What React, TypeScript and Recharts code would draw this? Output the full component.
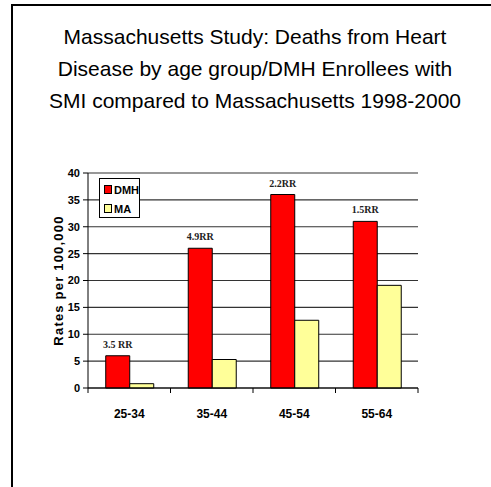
import React from 'react';
import { BarChart, Bar, XAxis, YAxis, CartesianGrid, LabelList } from 'recharts';

const ageGroups = ['25-34', '35-44', '45-54', '55-64'];
const dmhRates = [6, 26, 36, 31];
const maRates = [0.8, 5.3, 12.6, 19.1];
const rrLabels = ['3.5 RR', '4.9RR', '2.2RR', '1.5RR'];
const yTicks = [0, 5, 10, 15, 20, 25, 30, 35, 40];
const seriesNames = ['DMH', 'MA'];
const seriesColors = ['#ff0000', '#ffff99'];

const titleLines = [
    'Massachusetts Study: Deaths from Heart',
    'Disease by age group/DMH Enrollees with',
    'SMI compared to Massachusetts 1998-2000',
];

const data = ageGroups.map((name, i) => ({
    name,
    DMH: dmhRates[i],
    MA: maRates[i],
    rr: rrLabels[i],
}));

const font = '"Liberation Sans", Arial, sans-serif';
const HALF_BAND = 41.25;

// category labels centred, tick marks on the category boundaries
const AgeTick = (props: any) => {
    const { x, y, payload, index } = props;
    const top = y - 8;
    return (
        <g>
            <line x1={x - HALF_BAND} y1={top} x2={x - HALF_BAND} y2={top + 5} stroke="#000" />
            {index === ageGroups.length - 1 && (
                <line x1={x + HALF_BAND} y1={top} x2={x + HALF_BAND} y2={top + 5} stroke="#000" />
            )}
            <text x={x} y={top + 30} textAnchor="middle" fontFamily={font} fontWeight="bold" fontSize={12} fill="#000">
                {payload.value}
            </text>
        </g>
    );
};

const RRLabel = (props: any) => {
    const { x, y, width, value } = props;
    return (
        <text x={x + width / 2} y={y - 8} textAnchor="middle" fontFamily='"Liberation Serif", "Times New Roman", serif' fontWeight="bold" fontSize={10} fill="#222">
            {value}
        </text>
    );
};

const LegendBox = () => (
    <div style={{ position: 'absolute', left: 99, top: 178, border: '1px solid #000', width: 41, height: 40, background: '#fff', fontFamily: font, fontWeight: 'bold', fontSize: 11, boxSizing: 'border-box', padding: '3px 0 0 4px' }}>
        {seriesNames.map((n, i) => (
            <div key={n} style={{ display: 'flex', alignItems: 'center', height: 15, marginBottom: 4 }}>
                <span style={{ display: 'inline-block', width: 6, height: 7, background: seriesColors[i], border: '1px solid #000', marginRight: 2 }} />
                {n}
            </div>
        ))}
    </div>
);

const App: React.FC = () => {
    return (
        <div style={{ position: 'absolute', left: 0, top: 0, width: 491, height: 487, overflow: 'hidden', background: '#fff' }}>
            <div style={{ position: 'absolute', left: 11, top: 4, width: 520, height: 520, borderLeft: '2px solid #000', borderTop: '2px solid #000' }} />
            <div style={{ position: 'absolute', left: 10, top: 21, width: 490, textAlign: 'center', fontFamily: font, fontSize: 21, lineHeight: '32px', color: '#000' }}>
                {titleLines.map((t) => (
                    <div key={t}>{t}</div>
                ))}
            </div>
            <div style={{ position: 'absolute', left: 0, top: 0 }}>
                <BarChart
                    width={491}
                    height={487}
                    data={data}
                    margin={{ top: 173, right: 73, left: 28, bottom: 69 }}
                    barCategoryGap="21.5%"
                    barGap={0}
                >
                    <CartesianGrid vertical={false} stroke="#333" strokeWidth={1.2} />
                    <XAxis dataKey="name" height={30} axisLine={{ stroke: '#000' }} tickLine={false} tick={<AgeTick />} interval={0} />
                    <YAxis
                        width={60}
                        domain={[0, 40]}
                        ticks={yTicks}
                        interval={0}
                        tickSize={5}
                        tickMargin={3}
                        axisLine={{ stroke: '#000' }}
                        tickLine={{ stroke: '#000' }}
                        tick={{ fill: '#000', fontFamily: font, fontWeight: 'bold', fontSize: 11 }}
                        label={{
                            value: 'Rates per 100,000',
                            angle: -90,
                            position: 'insideLeft',
                            offset: 0,
                            dx: 30,
                            style: { textAnchor: 'middle', fontFamily: font, fontWeight: 'bold', fontSize: 13, letterSpacing: 1.2, fill: '#000' },
                        }}
                    />
                    <YAxis yAxisId="right" orientation="right" width={0} tick={false} tickLine={false} axisLine={{ stroke: '#777', strokeWidth: 2 }} />
                    <Bar dataKey="DMH" fill={seriesColors[0]} stroke="#000" strokeWidth={1} isAnimationActive={false}>
                        <LabelList dataKey="rr" content={<RRLabel />} />
                    </Bar>
                    <Bar dataKey="MA" fill={seriesColors[1]} stroke="#000" strokeWidth={1} isAnimationActive={false} />
                </BarChart>
            </div>
            <LegendBox />
        </div>
    );
};

export default App;
